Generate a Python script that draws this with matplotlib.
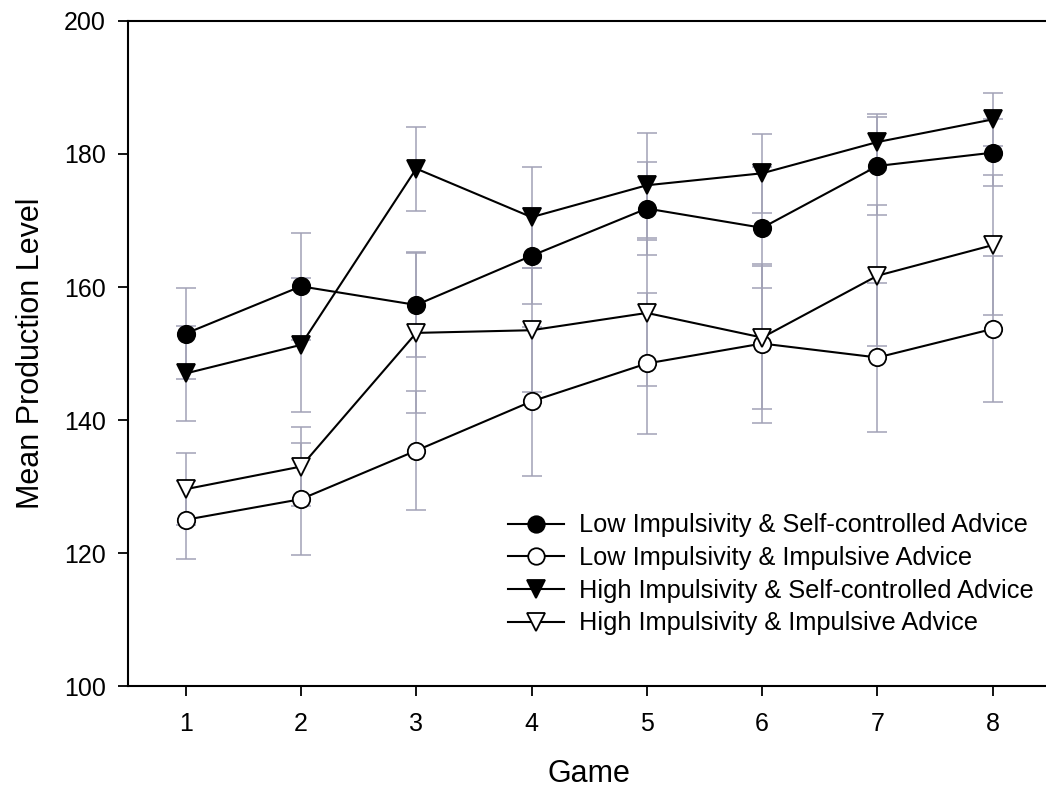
import matplotlib
matplotlib.use("Agg")
import matplotlib.pyplot as plt

plt.rcParams['font.family'] = ['Liberation Sans', 'DejaVu Sans']

games = [1, 2, 3, 4, 5, 6, 7, 8]

# group means and standard errors per game
low_self = [153.0, 160.1, 157.3, 164.7, 171.8, 168.9, 178.2, 180.2]
low_self_err = [6.9, 8.0, 7.8, 7.2, 7.0, 9.1, 7.3, 5.0]
low_imp = [125.0, 128.1, 135.4, 142.8, 148.5, 151.5, 149.4, 153.7]
low_imp_err = [5.9, 8.4, 8.9, 11.2, 10.6, 12.0, 11.2, 11.0]
high_self = [147.0, 151.3, 177.8, 170.5, 175.3, 177.1, 181.8, 185.2]
high_self_err = [7.2, 10.1, 6.3, 7.6, 7.9, 5.9, 4.2, 4.0]
high_imp = [129.6, 133.0, 153.1, 153.5, 156.1, 152.4, 161.7, 166.3]
high_imp_err = [5.4, 6.0, 12.1, 9.3, 11.0, 10.7, 10.6, 10.5]

labels = ['Low Impulsivity & Self-controlled Advice',
          'Low Impulsivity & Impulsive Advice',
          'High Impulsivity & Self-controlled Advice',
          'High Impulsivity & Impulsive Advice']

series = [(low_self, low_self_err, 'o', 'black'),
          (low_imp, low_imp_err, 'o', 'white'),
          (high_self, high_self_err, 'v', 'black'),
          (high_imp, high_imp_err, 'v', 'white')]

fig = plt.figure(figsize=(10.46, 7.92), dpi=100)
ax = fig.add_axes([0.1224, 0.1338, 0.8818, 0.8397])

err_color = '#a2a2b6'
for (vals, errs, mk, fc), lab in zip(series, labels):
    ax.errorbar(games, vals, yerr=errs, fmt='none', ecolor=err_color,
                elinewidth=1.1, capsize=7, capthick=1.1, zorder=1)
for (vals, errs, mk, fc), lab in zip(series, labels):
    ms = 12.5 if mk == 'o' else 13
    ax.plot(games, vals, color='black', lw=1.5, marker=mk, markersize=ms,
            markerfacecolor=fc, markeredgecolor='black', markeredgewidth=1.3,
            label=lab, zorder=3)

ax.set_xlim(0.5, 8.5)
ax.set_ylim(100, 200)
ax.set_xticks(games)
ax.set_yticks([100, 120, 140, 160, 180, 200])
ax.spines['right'].set_visible(False)
for s in ['left', 'bottom', 'top']:
    ax.spines[s].set_linewidth(1.5)
ax.tick_params(axis='both', direction='out', length=7, width=1.3,
               labelsize=18)
ax.tick_params(axis='x', pad=12)
ax.tick_params(axis='y', pad=9)

ax.set_xlabel('Game', fontsize=22, labelpad=16)
ax.set_ylabel('Mean Production Level', fontsize=22, labelpad=13)

ax.legend(loc='lower left', bbox_to_anchor=(0.398, 0.057), frameon=False,
          fontsize=18.3, handlelength=2.2, handletextpad=0.6,
          labelspacing=0.34, borderpad=0, markerscale=0.95)

fig.savefig('out.png', dpi=100)
